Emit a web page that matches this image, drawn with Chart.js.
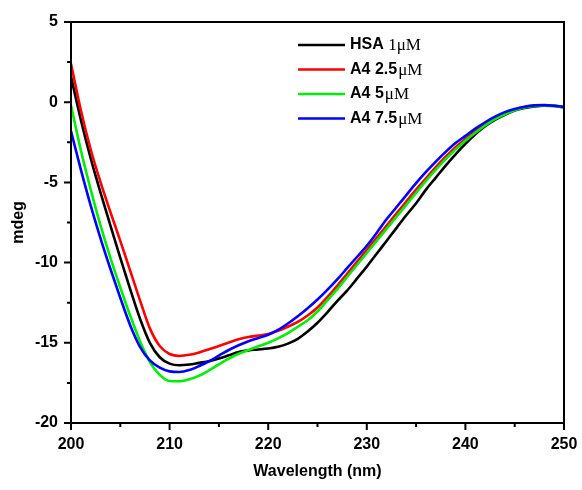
<!DOCTYPE html>
<html>
<head>
<meta charset="utf-8">
<script src="https://cdn.jsdelivr.net/npm/chart.js@4"></script>
<style>
  body { margin: 0; background: #fff; }
  #wrap { width: 582px; height: 490px; }
</style>
</head>
<body>
<div id="wrap"><canvas id="chart"></canvas></div>
<script>
// wavelength (nm), one point per nm
const wavelengths = [];
for (let w = 200; w <= 250; w++) wavelengths.push(w);

const hsa1 = [1.6, -1.1, -3.5, -5.65, -7.7, -9.7, -11.65, -13.5, -15.0, -15.9,
  -16.3, -16.4, -16.35, -16.25, -16.15, -15.98, -15.78, -15.58, -15.47, -15.42,
  -15.36, -15.25, -15.05, -14.75, -14.3, -13.75, -13.1, -12.4, -11.75, -11.0,
  -10.25, -9.45, -8.65, -7.85, -7.05, -6.3, -5.45, -4.7, -3.95, -3.25,
  -2.6, -2.0, -1.5, -1.1, -0.78, -0.52, -0.36, -0.26, -0.22, -0.24, -0.32];

const a4_25 = [2.4, -0.5, -2.95, -5.0, -6.85, -8.65, -10.5, -12.35, -14.1, -15.2,
  -15.7, -15.82, -15.75, -15.6, -15.4, -15.2, -14.98, -14.78, -14.64, -14.55,
  -14.45, -14.25, -14.0, -13.7, -13.3, -12.8, -12.15, -11.45, -10.7, -9.95,
  -9.2, -8.45, -7.7, -6.95, -6.2, -5.45, -4.75, -4.05, -3.4, -2.8,
  -2.3, -1.8, -1.35, -0.97, -0.68, -0.46, -0.3, -0.22, -0.19, -0.22, -0.3];

const a4_5 = [-0.2, -3.0, -5.45, -7.7, -9.7, -11.55, -13.3, -14.9, -16.2, -17.0,
  -17.38, -17.4, -17.28, -17.05, -16.72, -16.35, -15.98, -15.68, -15.45, -15.22,
  -15.0, -14.72, -14.4, -14.0, -13.6, -13.05, -12.35, -11.65, -10.9, -10.15,
  -9.4, -8.65, -7.9, -7.15, -6.4, -5.65, -4.9, -4.2, -3.55, -2.95,
  -2.4, -1.9, -1.45, -1.05, -0.75, -0.5, -0.33, -0.24, -0.2, -0.23, -0.3];

const a4_75 = [-1.8, -4.2, -6.45, -8.5, -10.4, -12.2, -13.9, -15.25, -16.1, -16.55,
  -16.78, -16.82, -16.7, -16.45, -16.15, -15.8, -15.45, -15.15, -14.9, -14.7,
  -14.5, -14.2, -13.8, -13.35, -12.85, -12.3, -11.7, -11.05, -10.35, -9.65,
  -8.95, -8.15, -7.3, -6.55, -5.8, -5.05, -4.35, -3.7, -3.1, -2.55,
  -2.1, -1.65, -1.25, -0.9, -0.62, -0.42, -0.28, -0.2, -0.18, -0.22, -0.3];

const legendSans = ['HSA ', 'A4 2.5', 'A4 5', 'A4 7.5'];
const legendSerif = ['1\u03bcM', '\u03bcM', '\u03bcM', '\u03bcM'];
const colors = ['#000000', '#ff0000', '#00ee00', '#0000ff'];
const series = [hsa1, a4_25, a4_5, a4_75];

const xTicks = [200, 210, 220, 230, 240, 250];
const yTicks = [-20, -15, -10, -5, 0, 5];

const datasets = series.map((vals, i) => ({
  label: legendSans[i] + legendSerif[i],
  data: vals.map((v, j) => ({ x: wavelengths[j], y: v })),
  borderColor: colors[i],
  borderWidth: 2.6,
  pointRadius: 0,
  cubicInterpolationMode: 'monotone',
  order: 4 - i
}));

const boldFont = { family: '"Liberation Sans", Arial, sans-serif', size: 16, weight: 'bold' };

// frame, tick marks and legend
const framePlugin = {
  id: 'frame',
  afterDraw(chart) {
    const ctx = chart.ctx;
    const a = chart.chartArea;
    const xs = chart.scales.x, ys = chart.scales.y;
    ctx.save();
    ctx.strokeStyle = '#000';
    ctx.lineWidth = 2;
    ctx.strokeRect(a.left, a.top, a.right - a.left, a.bottom - a.top);
    ctx.beginPath();
    for (let v = 200; v <= 250; v += 5) {
      const p = xs.getPixelForValue(v);
      const len = xTicks.includes(v) ? 7 : 4;
      ctx.moveTo(p, a.bottom);
      ctx.lineTo(p, a.bottom + len);
    }
    for (let v = -20; v <= 5; v += 2.5) {
      const p = ys.getPixelForValue(v);
      const len = yTicks.includes(v) ? 7 : 4;
      ctx.moveTo(a.left, p);
      ctx.lineTo(a.left - len, p);
    }
    ctx.stroke();

    // legend
    const lx = 298, ly = 45, gap = 24.5;
    chart.data.datasets.forEach((ds, i) => {
      const y = ly + i * gap;
      ctx.strokeStyle = colors[i];
      ctx.lineWidth = 2.6;
      ctx.beginPath();
      ctx.moveTo(lx, y);
      ctx.lineTo(lx + 47, y);
      ctx.stroke();
      ctx.fillStyle = '#000';
      ctx.textBaseline = 'middle';
      ctx.font = 'bold 16px "Liberation Sans", Arial, sans-serif';
      ctx.fillText(legendSans[i], lx + 52, y);
      const w = ctx.measureText(legendSans[i]).width;
      ctx.font = '17px "Liberation Serif", "Times New Roman", serif';
      ctx.fillText(legendSerif[i], lx + 52 + w + (i === 0 ? 0 : 1), y + 1);
    });
    ctx.restore();
  }
};

new Chart(document.getElementById('chart'), {
  type: 'line',
  data: { datasets: datasets },
  options: {
    responsive: true,
    maintainAspectRatio: false,
    animation: false,
    layout: { padding: { top: 22, right: 18, left: 0, bottom: 0 } },
    plugins: { legend: { display: false }, tooltip: { enabled: false } },
    scales: {
      x: {
        type: 'linear',
        min: 200, max: 250,
        afterFit: s => { s.height = 67; s.paddingLeft = 0; s.paddingRight = 0; },
        border: { display: false },
        grid: { drawOnChartArea: false, drawTicks: false, display: false },
        ticks: {
          stepSize: 5, padding: 12, color: '#000', font: boldFont, maxRotation: 0,
          callback: v => (xTicks.includes(v) ? v : '')
        },
        title: { display: true, text: 'Wavelength (nm)', color: '#000', font: boldFont, padding: { top: 4, bottom: 9 } }
      },
      y: {
        min: -20, max: 5,
        afterFit: s => { s.width = 71; s.paddingTop = 0; s.paddingBottom = 0; },
        border: { display: false },
        grid: { drawOnChartArea: false, drawTicks: false, display: false },
        ticks: {
          stepSize: 2.5, padding: 13, color: '#000', font: boldFont,
          callback: v => (yTicks.includes(v) ? v : '')
        },
        title: { display: true, text: 'mdeg', color: '#000', font: boldFont, padding: { top: 9, bottom: 0 } }
      }
    }
  },
  plugins: [framePlugin]
});
</script>
</body>
</html>
